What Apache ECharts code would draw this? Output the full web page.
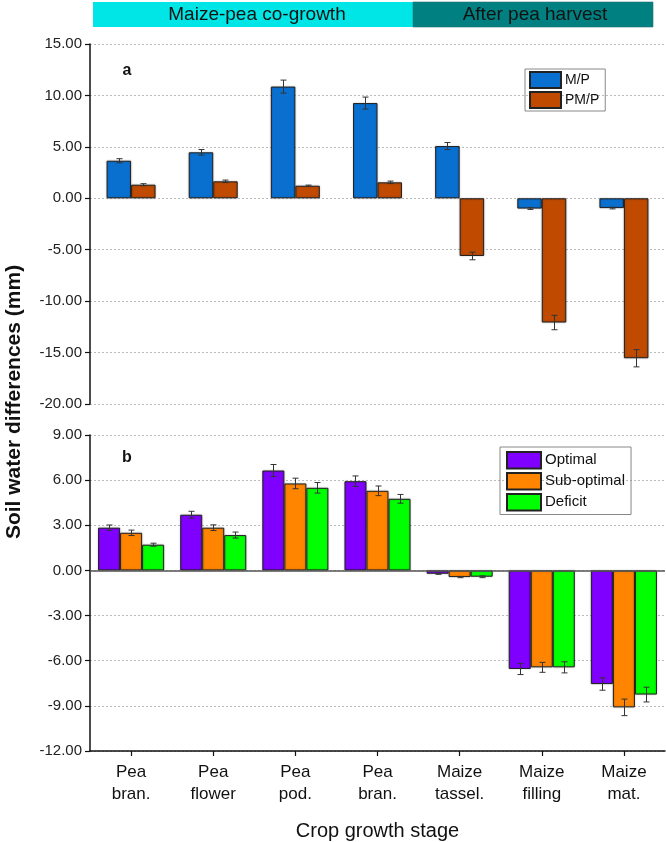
<!DOCTYPE html>
<html>
<head>
<meta charset="utf-8">
<script src="https://cdn.jsdelivr.net/npm/echarts@6/dist/echarts.min.js"></script>
<style>
html,body{margin:0;padding:0;background:#fff;}
#chart{width:666px;height:842px;}
</style>
</head>
<body>
<div id="chart"></div>
<script>
// ---- data ----
var categories = ['Pea\nbran.', 'Pea\nflower', 'Pea\npod.', 'Pea\nbran.', 'Maize\ntassel.', 'Maize\nfilling', 'Maize\nmat.'];

// panel a
var mpValues   = [3.65, 4.47, 10.86, 9.26, 5.08, -1.00, -0.95];
var mpErrors   = [0.20, 0.27, 0.63, 0.58, 0.34, 0.08, 0.08];
var pmpValues  = [1.32, 1.65, 1.22, 1.55, -5.61, -12.08, -15.55];
var pmpErrors  = [0.10, 0.12, 0.06, 0.12, 0.37, 0.70, 0.84];

// panel b
var optValues  = [2.84, 3.70, 6.64, 5.93, -0.22, -6.55, -7.55];
var optErrors  = [0.18, 0.23, 0.40, 0.35, 0.04, 0.37, 0.41];
var subValues  = [2.50, 2.84, 5.78, 5.29, -0.44, -6.44, -9.10];
var subErrors  = [0.18, 0.19, 0.35, 0.32, 0.04, 0.33, 0.55];
var defValues  = [1.71, 2.35, 5.49, 4.76, -0.42, -6.44, -8.25];
var defErrors  = [0.10, 0.20, 0.35, 0.29, 0.06, 0.37, 0.49];

var axisATicks = {min: -20, max: 15, interval: 5};
var axisBTicks = {min: -12, max: 9, interval: 3};

var headerLabels = ['Maize-pea co-growth', 'After pea harvest'];
var yTitle = 'Soil water differences (mm)';
var xTitle = 'Crop growth stage';

// ---- chart ----
var FONT = '"Liberation Sans", Arial, sans-serif';
var chart = echarts.init(document.getElementById('chart'), null, {renderer: 'canvas'});

function errData(vals, errs) {
  return vals.map(function (v, i) { return [i, v, errs[i]]; });
}
function errRender(offsetFrac) {
  return function (params, api) {
    var idx = api.value(0), v = api.value(1), e = api.value(2);
    var bw = api.size([1, 0])[0];
    var hi = api.coord([idx, v + e]);
    var lo = api.coord([idx, v - e]);
    var cx = Math.round(hi[0] + offsetFrac * bw) + 0.5;
    var cap = 3;
    var st = {stroke: '#333', lineWidth: 1, fill: null};
    return {
      type: 'group',
      children: [
        {type: 'line', shape: {x1: cx, y1: hi[1], x2: cx, y2: lo[1]}, style: st},
        {type: 'line', shape: {x1: cx - cap, y1: hi[1], x2: cx + cap, y2: hi[1]}, style: st},
        {type: 'line', shape: {x1: cx - cap, y1: lo[1], x2: cx + cap, y2: lo[1]}, style: st}
      ]
    };
  };
}

var barStyleBase = {borderColor: '#222', borderWidth: 1, shadowColor: 'rgba(0,0,0,0.25)', shadowBlur: 2};
function bar(name, data, color, xi, yi, width) {
  return {
    name: name, type: 'bar', data: data, xAxisIndex: xi, yAxisIndex: yi,
    barWidth: width, barGap: '0%',
    itemStyle: Object.assign({color: color}, barStyleBase),
    emphasis: {disabled: true}, z: 2
  };
}
function err(data, off, xi, yi) {
  return {
    type: 'custom', data: data, xAxisIndex: xi, yAxisIndex: yi,
    renderItem: errRender(off), z: 5, silent: true,
    encode: {x: 0, y: 1}
  };
}

var wA = 0.298, wB = 0.268;

var yAxisCommon = function (t, gi) {
  return {
    type: 'value', gridIndex: gi, min: t.min, max: t.max, interval: t.interval,
    axisLine: {show: true, onZero: false, lineStyle: {color: '#111', width: 1.5}},
    axisTick: {show: true, length: 5, lineStyle: {color: '#111', width: 1.2}},
    axisLabel: {color: '#222', fontSize: 15, fontFamily: FONT, margin: 8,
      formatter: function (v) { return v.toFixed(2); }},
    splitLine: {show: true, lineStyle: {color: '#bbb', type: [2, 2], width: 1}}
  };
};

var barsB1 = bar('Optimal', optValues, '#8000FF', 1, 1, wB * 100 + '%');
barsB1.markLine = {
  silent: true, symbol: 'none', label: {show: false},
  lineStyle: {color: '#555', type: 'solid', width: 1.5},
  data: [{yAxis: 0}], animation: false
};

var option = {
  animation: false,
  backgroundColor: '#fff',
  grid: [
    {left: 90, right: 1, top: 44, height: 360},
    {left: 90, right: 1, top: 435, height: 316}
  ],
  xAxis: [
    {type: 'category', gridIndex: 0, data: categories,
      axisLine: {show: false}, axisTick: {show: false}, axisLabel: {show: false}, splitLine: {show: false}},
    {type: 'category', gridIndex: 1, data: categories, position: 'bottom',
      axisLine: {show: true, onZero: false, lineStyle: {color: '#111', width: 1.5}},
      axisTick: {show: true, alignWithLabel: true, length: 5, lineStyle: {color: '#111', width: 1.2}},
      axisLabel: {color: '#111', fontSize: 17, fontFamily: FONT, lineHeight: 22, margin: 10, interval: 0},
      name: xTitle, nameLocation: 'middle', nameGap: 70,
      nameTextStyle: {color: '#111', fontSize: 20, fontFamily: FONT}}
  ],
  yAxis: [yAxisCommon(axisATicks, 0), yAxisCommon(axisBTicks, 1)],
  legend: [
    {data: ['M/P', 'PM/P'], orient: 'vertical', left: 525, top: 69,
      itemWidth: 31, itemHeight: 16, itemGap: 2, padding: [2, 6, 2, 4],
      borderColor: '#888', borderWidth: 1, icon: 'rect',
      textStyle: {fontSize: 14, fontFamily: FONT, color: '#111', padding: [0, 0, 0, -1]}},
    {data: ['Optimal', 'Sub-optimal', 'Deficit'], orient: 'vertical', left: 500, top: 447,
      itemWidth: 34, itemHeight: 16.5, itemGap: 2.5, padding: [4, 6, 3, 6],
      borderColor: '#888', borderWidth: 1, icon: 'rect',
      textStyle: {fontSize: 15, fontFamily: FONT, color: '#111', padding: [0, 0, 0, -1]}}
  ],
  graphic: [
    {type: 'rect', shape: {x: 93, y: 2, width: 320, height: 25}, style: {fill: '#00E6E6'}},
    {type: 'rect', shape: {x: 413, y: 2, width: 240, height: 25}, style: {fill: '#008080', stroke: '#2a6e6e', lineWidth: 0.6}},
    {type: 'text', x: 257, y: 15, style: {text: headerLabels[0], fill: '#111', font: '19px ' + FONT, textAlign: 'center', textVerticalAlign: 'middle'}},
    {type: 'text', x: 535, y: 15, style: {text: headerLabels[1], fill: '#111', font: '19px ' + FONT, textAlign: 'center', textVerticalAlign: 'middle'}},
    {type: 'text', x: 14, y: 402, rotation: Math.PI / 2,
      style: {text: yTitle, fill: '#111', font: 'bold 21px ' + FONT, textAlign: 'center', textVerticalAlign: 'middle'}},
    {type: 'text', x: 127, y: 71, style: {text: 'a', fill: '#111', font: 'bold 16px ' + FONT, textAlign: 'center', textVerticalAlign: 'middle'}},
    {type: 'text', x: 127, y: 458, style: {text: 'b', fill: '#111', font: 'bold 16px ' + FONT, textAlign: 'center', textVerticalAlign: 'middle'}}
  ],
  series: [
    bar('M/P', mpValues, '#0A70D0', 0, 0, wA * 100 + '%'),
    bar('PM/P', pmpValues, '#BF4A00', 0, 0, wA * 100 + '%'),
    err(errData(mpValues, mpErrors), -wA / 2, 0, 0),
    err(errData(pmpValues, pmpErrors), wA / 2, 0, 0),
    barsB1,
    bar('Sub-optimal', subValues, '#FF8400', 1, 1, wB * 100 + '%'),
    bar('Deficit', defValues, '#00FF00', 1, 1, wB * 100 + '%'),
    err(errData(optValues, optErrors), -wB, 1, 1),
    err(errData(subValues, subErrors), 0, 1, 1),
    err(errData(defValues, defErrors), wB, 1, 1)
  ]
};
chart.setOption(option);
</script>
</body>
</html>
